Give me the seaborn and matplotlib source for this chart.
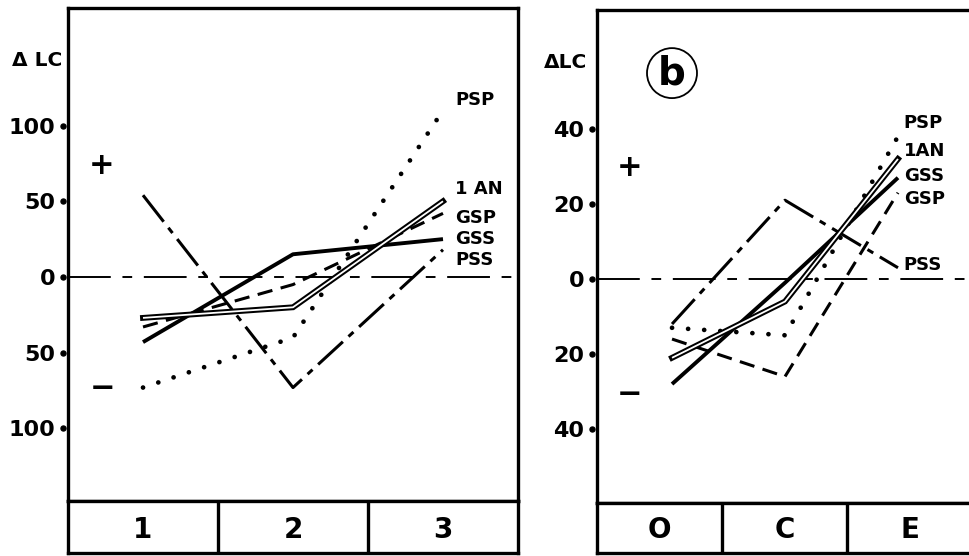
import numpy as np
import pandas as pd
import matplotlib
matplotlib.use("Agg")
import matplotlib.pyplot as plt
from matplotlib.patches import Ellipse
from matplotlib.transforms import offset_copy
import seaborn as sns

# Panel (a): change in LC over sessions 1-3
sessions = ["1", "2", "3"]
psp_a = [-73, -40, 110]
an1_a = [-27, -20, 50]
gsp_a = [-33, -5, 42]
gss_a = [-43, 15, 25]
pss_a = [54, -73, 18]
ticks_a = [100, 50, 0, -50, -100]

# Panel (b): change in LC over phases O, C, E
phases = ["O", "C", "E"]
psp_b = [-13, -15, 38]
an1_b = [-21, -6, 32]
gss_b = [-28, -1, 27]
gsp_b = [-16, -26, 23]
pss_b = [-12, 21, 3]
ticks_b = [40, 20, 0, -20, -40]

sns.set_style("white")
plt.rcParams["font.family"] = ["DejaVu Sans"]
plt.rcParams["font.weight"] = "bold"
plt.rcParams["text.color"] = "black"
plt.rcParams["axes.labelcolor"] = "black"
plt.rcParams["xtick.color"] = "black"
plt.rcParams["ytick.color"] = "black"

W, H = 969, 556
fig = plt.figure(figsize=(W / 100, H / 100), dpi=100)
fig.patch.set_facecolor("white")


def px_axes(left, top, right, bottom):
    return fig.add_axes([left / W, 1 - bottom / H, (right - left) / W, (bottom - top) / H])


SPINE_W = 2.4

# line styles for each group
STYLES = {
    "PSP": dict(linestyle=(0, (0.01, 3.4)), lw=3.4, dash_capstyle="round"),
    "GSP": dict(linestyle=(0, (5, 2.8)), lw=2.2),
    "GSS": dict(linestyle="-", lw=2.8, solid_capstyle="butt"),
    "PSS": dict(linestyle=(0, (11, 2.5, 2.2, 2.5)), lw=2.2),
}


def draw_panel(ax, box, xs_lim, ylim, cats, ticks, series, labels, label_x):
    ax.set_xlim(*xs_lim)
    ax.set_ylim(*ylim)
    for s in ax.spines.values():
        s.set_visible(True)
        s.set_linewidth(SPINE_W)
        s.set_color("black")
    ax.set_xticks([])
    ax.set_yticks(ticks)
    ax.set_yticklabels([f"{abs(t)}" for t in ticks], fontsize=16, fontweight="bold",
                       color="black")
    ax.tick_params(axis="y", length=0, pad=9)
    # dot tick markers just left of the axis
    dot_tr = offset_copy(ax.get_yaxis_transform(), fig=fig, x=-5, y=0, units="dots")
    ax.plot(np.zeros(len(ticks)), ticks, "o", ms=3.6, color="black",
            transform=dot_tr, clip_on=False)

    ax.axhline(0, color="black", lw=1.4, linestyle=(0, (22, 6, 5, 6)), zorder=1)

    x = np.arange(len(cats))
    for name, vals in series:
        df = pd.DataFrame({"x": x, "y": vals})
        if name.replace(" ", "") == "1AN":
            sns.lineplot(data=df, x="x", y="y", ax=ax, color="black", lw=4.2,
                         solid_capstyle="projecting", solid_joinstyle="miter",
                         sort=False, zorder=3)
            sns.lineplot(data=df, x="x", y="y", ax=ax, color="white", lw=1.3,
                         solid_capstyle="butt", sort=False, zorder=4)
        else:
            sns.lineplot(data=df, x="x", y="y", ax=ax, color="black",
                         sort=False, zorder=3, **STYLES[name])
    ax.set_xlabel("")
    ax.set_ylabel("")

    for text, yv in labels:
        ax.text(label_x, yv, text, fontsize=13, fontweight="bold", color="black",
                ha="left", va="center", zorder=5)

    # category strip under the panel
    box.set_xlim(0, 3)
    box.set_ylim(0, 1)
    box.set_xticks([])
    box.set_yticks([])
    for s in box.spines.values():
        s.set_visible(True)
        s.set_linewidth(SPINE_W)
        s.set_color("black")
    for d in (1, 2):
        box.axvline(d, color="black", lw=SPINE_W)
    for i, c in enumerate(cats):
        box.text(i + 0.5, 0.45, c, fontsize=20, fontweight="bold", color="black",
                 ha="center", va="center")


# ---- panel (a)
ax_a = px_axes(68, 8, 518, 501)
box_a = px_axes(68, 501, 518, 553)
draw_panel(
    ax_a, box_a, (-0.5, 2.5), (-147.9, 177.6), sessions, ticks_a,
    [("PSS", pss_a), ("PSP", psp_a), ("GSP", gsp_a), ("GSS", gss_a), ("1 AN", an1_a)],
    [("PSP", 117), ("1 AN", 58), ("GSP", 39), ("GSS", 25), ("PSS", 11)],
    2.08,
)
ax_a.text(-0.069, 0.8925, "Δ LC", transform=ax_a.transAxes, fontsize=14.5,
          fontweight="bold", ha="center", va="center")
ax_a.text(0.0756, 0.68, "+", transform=ax_a.transAxes, fontsize=22,
          fontweight="bold", ha="center", va="center")
ax_a.text(0.0756, 0.229, "\u2212", transform=ax_a.transAxes, fontsize=22,
          fontweight="bold", ha="center", va="center")

# ---- panel (b)
ax_b = px_axes(597, 10, 972, 503)
box_b = px_axes(597, 503, 972, 553)
draw_panel(
    ax_b, box_b, (-0.664, 2.655), (-59.7, 71.7), phases, ticks_b,
    [("PSS", pss_b), ("PSP", psp_b), ("GSP", gsp_b), ("GSS", gss_b), ("1AN", an1_b)],
    [("PSP", 41.6), ("1AN", 34), ("GSS", 27.4), ("GSP", 21.3), ("PSS", 3.7)],
    2.05,
)
ax_b.text(-0.085, 0.8925, "ΔLC", transform=ax_b.transAxes, fontsize=14.5,
          fontweight="bold", ha="center", va="center")
ax_b.text(0.088, 0.68, "+", transform=ax_b.transAxes, fontsize=22,
          fontweight="bold", ha="center", va="center")
ax_b.text(0.088, 0.221, "\u2212", transform=ax_b.transAxes, fontsize=22,
          fontweight="bold", ha="center", va="center")
ax_b.add_patch(Ellipse((0.2, 0.872), 0.1333, 0.1014, transform=ax_b.transAxes,
                       fill=False, lw=1.3, edgecolor="black"))
ax_b.text(0.2, 0.872, "b", transform=ax_b.transAxes, fontsize=28,
          fontweight="bold", ha="center", va="center")

fig.savefig("out.png", dpi=100, facecolor="white")
